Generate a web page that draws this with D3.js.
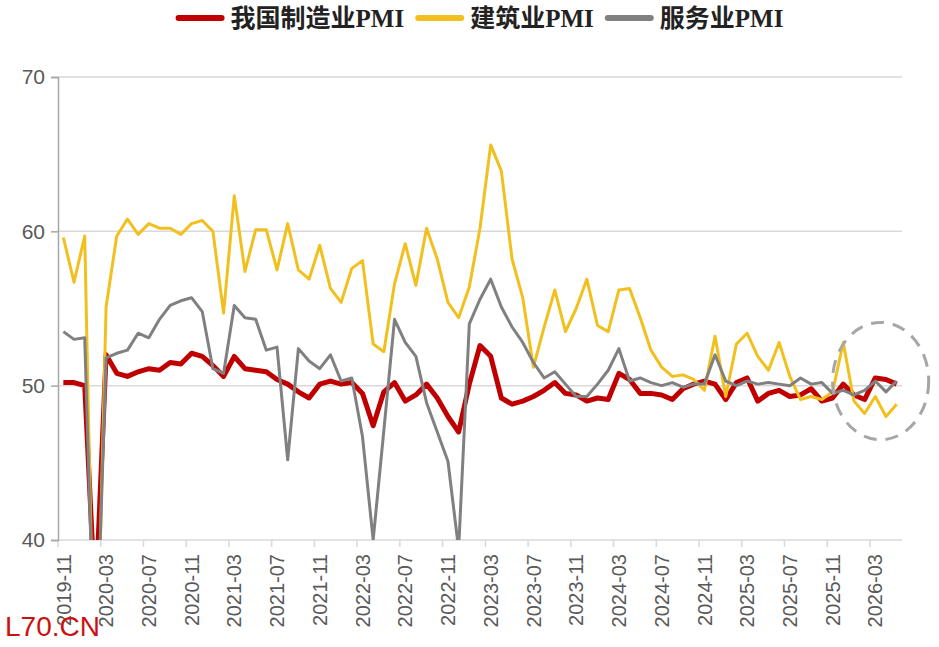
<!DOCTYPE html>
<html>
<head>
<meta charset="utf-8">
<script src="https://cdn.jsdelivr.net/npm/d3@7"></script>
<style>
  body { margin: 0; background: #fff; }
  svg { display: block; }
</style>
</head>
<body>
<script>
// months (category axis)
const months = [
  '2019-11','2019-12',
  '2020-01','2020-02','2020-03','2020-04','2020-05','2020-06','2020-07','2020-08','2020-09','2020-10','2020-11','2020-12',
  '2021-01','2021-02','2021-03','2021-04','2021-05','2021-06','2021-07','2021-08','2021-09','2021-10','2021-11','2021-12',
  '2022-01','2022-02','2022-03','2022-04','2022-05','2022-06','2022-07','2022-08','2022-09','2022-10','2022-11','2022-12',
  '2023-01','2023-02','2023-03','2023-04','2023-05','2023-06','2023-07','2023-08','2023-09','2023-10','2023-11','2023-12',
  '2024-01','2024-02','2024-03','2024-04','2024-05','2024-06','2024-07','2024-08','2024-09','2024-10','2024-11','2024-12',
  '2025-01','2025-02','2025-03','2025-04','2025-05','2025-06','2025-07','2025-08','2025-09','2025-10','2025-11','2025-12',
  '2026-01','2026-02','2026-03','2026-04','2026-05'
];

const mfgPMI = [
  50.2, 50.2,
  50.0, 35.7, 52.0, 50.8, 50.6, 50.9, 51.1, 51.0, 51.5, 51.4, 52.1, 51.9,
  51.3, 50.6, 51.9, 51.1, 51.0, 50.9, 50.4, 50.1, 49.6, 49.2, 50.1, 50.3,
  50.1, 50.2, 49.5, 47.4, 49.6, 50.2, 49.0, 49.4, 50.1, 49.2, 48.0, 47.0,
  50.1, 52.6, 51.9, 49.2, 48.8, 49.0, 49.3, 49.7, 50.2, 49.5, 49.4, 49.0,
  49.2, 49.1, 50.8, 50.4, 49.5, 49.5, 49.4, 49.1, 49.8, 50.1, 50.3, 50.1,
  49.1, 50.2, 50.5, 49.0, 49.5, 49.7, 49.3, 49.4, 49.8, 49.0, 49.2, 50.1,
  49.4, 49.1, 50.5, 50.4, 50.1
];

const conPMI = [
  59.6, 56.7,
  59.7, 26.6, 55.1, 59.7, 60.8, 59.8, 60.5, 60.2, 60.2, 59.8, 60.5, 60.7,
  60.0, 54.7, 62.3, 57.4, 60.1, 60.1, 57.5, 60.5, 57.5, 56.9, 59.1, 56.3,
  55.4, 57.6, 58.1, 52.7, 52.2, 56.6, 59.2, 56.5, 60.2, 58.2, 55.4, 54.4,
  56.4, 60.2, 65.6, 63.9, 58.2, 55.7, 51.2, 53.8, 56.2, 53.5, 55.0, 56.9,
  53.9, 53.5, 56.2, 56.3, 54.4, 52.3, 51.2, 50.6, 50.7, 50.4, 49.7, 53.2,
  49.3, 52.7, 53.4, 51.9, 51.0, 52.8, 50.6, 49.1, 49.3, 49.1, 49.6, 52.8,
  49.0, 48.2, 49.3, 48.0, 48.8
];

const svcPMI = [
  53.5, 53.0,
  53.1, 30.1, 51.8, 52.1, 52.3, 53.4, 53.1, 54.3, 55.2, 55.5, 55.7, 54.8,
  51.1, 50.8, 55.2, 54.4, 54.3, 52.3, 52.5, 45.2, 52.4, 51.6, 51.1, 52.0,
  50.3, 50.5, 46.7, 40.0, 47.1, 54.3, 52.8, 51.9, 48.9, 47.0, 45.1, 39.4,
  54.0, 55.6, 56.9, 55.1, 53.8, 52.8, 51.5, 50.5, 50.9, 50.1, 49.3, 49.3,
  50.1, 51.0, 52.4, 50.3, 50.5, 50.2, 50.0, 50.2, 49.9, 50.1, 50.1, 52.0,
  50.3, 50.0, 50.3, 50.1, 50.2, 50.1, 50.0, 50.5, 50.1, 50.2, 49.5, 49.7,
  49.4, 49.7, 50.3, 49.6, 50.3
];

const yTicks = [40, 50, 60, 70];
const xTickMonths = months.filter((d, i) => i % 4 === 0);

const series = [
  { name: '我国制造业PMI', values: mfgPMI, color: '#C00000', width: 5 },
  { name: '建筑业PMI', values: conPMI, color: '#F2C01E', width: 3 },
  { name: '服务业PMI', values: svcPMI, color: '#808080', width: 3 }
];

const W = 939, H = 647;
const svg = d3.select(document.body).append('svg')
  .attr('width', W).attr('height', H);

const x = d3.scaleBand().domain(months).range([58, 902]).padding(0);
const y = d3.scaleLinear().domain([40, 70]).range([540, 77]);
const bw = x.bandwidth();
const cx = d => x(d) + bw / 2;

// gridlines
svg.append('g').selectAll('line')
  .data(yTicks.filter(v => v > 40))
  .enter().append('line')
  .attr('x1', 58).attr('x2', 902)
  .attr('y1', d => y(d)).attr('y2', d => y(d))
  .attr('stroke', '#D9D9D9').attr('stroke-width', 1.5);

// x axis line + ticks
const gx = svg.append('g');
gx.append('line')
  .attr('x1', 58).attr('x2', 902).attr('y1', y(40)).attr('y2', y(40))
  .attr('stroke', '#D9D9D9').attr('stroke-width', 1.5);
gx.selectAll('.xt').data(xTickMonths).enter().append('line')
  .attr('class', 'xt')
  .attr('x1', d => x(d)).attr('x2', d => x(d))
  .attr('y1', y(40)).attr('y2', y(40) + 7)
  .attr('stroke', '#D9D9D9').attr('stroke-width', 1.5);
gx.selectAll('text').data(xTickMonths).enter().append('text')
  .attr('transform', d => `translate(${cx(d)},${y(40) + 14}) rotate(-90)`)
  .attr('dy', '0.36em')
  .attr('text-anchor', 'end')
  .style('font-family', '"Liberation Sans", Arial, sans-serif')
  .style('font-size', '20px')
  .attr('fill', '#595959')
  .text(d => d);

// y axis
const gy = svg.append('g').attr('transform', 'translate(58,0)')
  .call(d3.axisLeft(y).tickValues(yTicks).tickSize(7).tickPadding(6));
gy.select('.domain').attr('stroke', '#A6A6A6').attr('stroke-width', 1.5);
gy.selectAll('.tick line').attr('stroke', '#A6A6A6').attr('stroke-width', 1.5);
gy.selectAll('.tick text')
  .style('font-family', '"Liberation Sans", Arial, sans-serif')
  .style('font-size', '21px')
  .attr('fill', '#595959');

// lines
svg.append('clipPath').attr('id', 'plot-clip')
  .append('rect').attr('x', 58).attr('y', 70).attr('width', 850).attr('height', 540 - 70);

const line = d3.line()
  .x((d, i) => cx(months[i]))
  .y(d => y(d));

svg.append('g').attr('clip-path', 'url(#plot-clip)')
  .selectAll('path').data(series).enter().append('path')
  .attr('d', d => line(d.values))
  .attr('fill', 'none')
  .attr('stroke', d => d.color)
  .attr('stroke-width', d => d.width)
  .attr('stroke-linejoin', 'round');

// dashed highlight ellipse around latest months
const ecx = x('2026-03') + bw;
const ecy = y(50.3);
svg.append('ellipse')
  .attr('cx', ecx).attr('cy', ecy)
  .attr('rx', bw * 4.5).attr('ry', y(46.5) - ecy)
  .attr('fill', 'none')
  .attr('stroke', '#A6A6A6').attr('stroke-width', 3)
  .attr('stroke-dasharray', '13,9');

// legend
const legend = svg.append('g');
let lx = 0;
series.forEach(s => {
  const item = legend.append('g').attr('transform', `translate(${lx},0)`);
  item.append('line')
    .attr('x1', 2).attr('x2', 45).attr('y1', 18).attr('y2', 18)
    .attr('stroke', s.color).attr('stroke-width', 6).attr('stroke-linecap', 'round');
  const t = item.append('text')
    .attr('x', 54).attr('y', 27)
    .style('font-family', '"Liberation Serif", "Noto Sans CJK SC", serif')
    .style('font-size', '25px')
    .style('font-weight', 'bold')
    .attr('fill', '#222')
    .text(s.name);
  lx += 54 + t.node().getComputedTextLength() + 12;
});
const lw = lx - 12;
legend.attr('transform', `translate(${480 - lw / 2},0)`);

// watermark
svg.append('text')
  .attr('x', 5).attr('y', 636)
  .style('font-family', '"Liberation Sans", Arial, sans-serif')
  .style('font-size', '28px')
  .attr('fill', '#CC1111')
  .text('L70.CN');
</script>
</body>
</html>
